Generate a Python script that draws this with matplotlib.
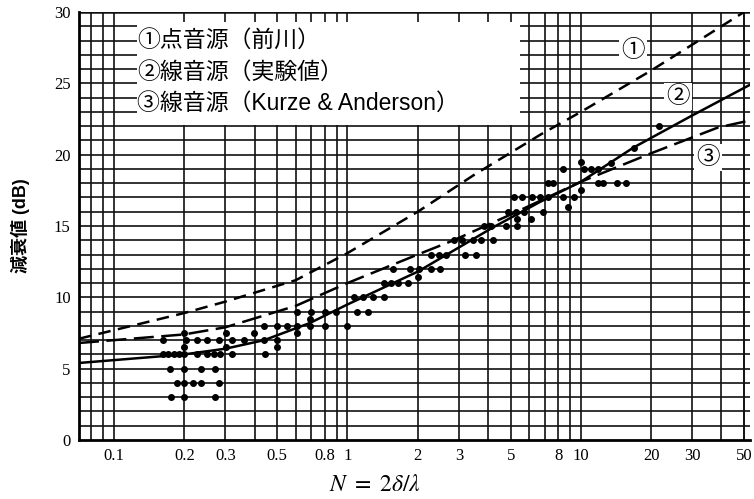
import matplotlib
matplotlib.use("Agg")
import matplotlib.pyplot as plt
from matplotlib.patches import Rectangle
import numpy as np

# ---- data ----
curve1_N = [0.0708, 0.1, 0.2, 0.3, 0.6, 1.0, 2.0, 3.5, 6.7, 10, 20, 50]
curve1_dB = [7.1, 7.7, 8.9, 9.7, 11.2, 13.1, 16.0, 18.6, 21.4, 23.0, 25.9, 30.0]

curve2_N = [0.0708, 0.1, 0.2, 0.3, 0.44, 0.69, 1.0, 2.0, 4.2, 6.7, 10, 16.8, 29.6, 53]
curve2_dB = [5.4, 5.6, 6.0, 6.4, 7.0, 8.2, 9.5, 11.8, 14.9, 16.7, 18.1, 20.5, 22.7, 24.9]

curve3_N = [0.0708, 0.1, 0.2, 0.3, 0.6, 1.0, 2.0, 2.85, 5, 10, 20, 38.6, 53]
curve3_dB = [6.8, 7.0, 7.4, 7.9, 9.4, 11.0, 13.0, 14.0, 15.8, 18.1, 20.1, 21.9, 22.4]

points_N = [0.162, 0.204, 0.227, 0.251, 0.282, 0.321, 0.362, 0.44, 0.50,
            0.2, 0.302, 0.396, 0.61,
            0.162, 0.170, 0.180, 0.189, 0.2, 0.226, 0.250, 0.267, 0.285, 0.320, 0.445,
            0.2, 0.302, 0.50,
            0.174, 0.2, 0.236, 0.271,
            0.187, 0.2, 0.219, 0.235, 0.283,
            0.176, 0.2, 0.27,
            0.44, 0.50, 0.55, 0.61, 0.69, 0.80, 1.0,
            0.61, 0.70, 0.80, 0.89, 0.69,
            1.07, 1.17, 1.29, 1.43, 1.1, 1.23,
            1.43, 1.53, 1.65, 1.81,
            1.56, 1.86, 2.02, 2.27, 2.5, 2.0,
            2.27, 2.46, 2.63, 3.2, 3.54,
            2.85, 3.1, 3.44, 3.72, 4.2,
            3.83, 4.1, 4.76, 5.35,
            4.86, 5.26, 5.7, 5.35, 6.1, 6.86,
            5.16, 5.6, 6.2, 6.7, 7.2, 8.4, 9.3, 8.8,
            7.2, 7.6, 8.4, 10, 10.3, 11.0, 11.8, 13.4,
            10, 11.8, 12.4, 14.3, 15.6, 16.8, 21.6]
points_dB = [7, 7, 7, 7, 7, 7, 7, 7, 7,
             7.5, 7.5, 7.5, 7.5,
             6, 6, 6, 6, 6, 6, 6, 6, 6, 6, 6,
             6.5, 6.5, 6.5,
             5, 5, 5, 5,
             4, 4, 4, 4, 4,
             3, 3, 3,
             8, 8, 8, 8, 8, 8, 8,
             9, 9, 9, 9, 8.5,
             10, 10, 10, 10, 9, 9,
             11, 11, 11, 11,
             12, 12, 12, 12, 12, 11.4,
             13, 13, 13, 13, 13,
             14, 14, 14, 14, 14,
             15, 15, 15, 15,
             16, 16, 16, 15.5, 15.5, 16,
             17, 17, 17, 17, 17, 17, 17, 16.3,
             18, 18, 19, 19.5, 19, 19, 19, 19.4,
             17.5, 18, 18, 18, 18, 20.5, 22]

x_ticks = [0.1, 0.2, 0.3, 0.5, 0.8, 1, 2, 3, 5, 8, 10, 20, 30, 50]
x_ticklabels = ["0.1", "0.2", "0.3", "0.5", "0.8", "1", "2", "3", "5", "8", "10", "20", "30", "50"]
y_ticks = [0, 5, 10, 15, 20, 25, 30]

legend_lines = ["①点音源（前川）", "②線音源（実験値）", "③線音源（Kurze & Anderson）"]
curve_tags = ["①", "②", "③"]
curve_tag_pos = [(16.7, 27.3), (26.1, 24.1), (35.1, 19.8)]

# ---- figure ----
plt.rcParams['mathtext.fontset'] = 'stix'
fig = plt.figure(figsize=(7.54, 4.99), dpi=100)
ax = fig.add_axes([79/754, 1-440/499, (750-79)/754, (440-12)/499])
ax.set_xscale('log')
ax.set_xlim(0.0708, 53)
ax.set_ylim(0, 30)

# grid
vgrid = [m * 10.0**e for e in (-2, -1, 0, 1) for m in range(1, 10)]
vgrid = [v for v in vgrid if 0.075 < v < 52] + [50]
for v in vgrid:
    ax.axvline(v, color='#111111', lw=1.2, zorder=1)
for h in range(1, 30):
    ax.axhline(h, color='#111111', lw=1.2, zorder=1)
ax.axhline(30, color='#111111', lw=1.8, zorder=1)

# curves
ax.plot(curve1_N, curve1_dB, color='black', lw=1.8, dashes=(5, 3), zorder=3)
ax.plot(curve2_N, curve2_dB, color='black', lw=1.8, zorder=3)
ax.plot(curve3_N, curve3_dB, color='black', lw=1.8, dashes=(8, 3), zorder=3)
ax.plot(points_N, points_dB, 'o', color='black', ms=4, zorder=4)

# legend box
ax.add_patch(Rectangle((58/671, 1-113/428), (520-137)/671, 103/428,
                       transform=ax.transAxes, facecolor='white', edgecolor='none', zorder=5))
for i, (txt, ypx) in enumerate(zip(legend_lines, [40, 72, 103])):
    ax.text((137-79)/671, (440-ypx)/428, txt, transform=ax.transAxes,
            fontsize=16.5, va='center', ha='left',
            family=['Liberation Sans', 'Noto Sans CJK JP'], zorder=6)

for tag, (xn, yd) in zip(curve_tags, curve_tag_pos):
    ax.text(xn, yd, tag, fontsize=17, ha='center', va='center',
            family=['Noto Sans CJK JP', 'DejaVu Sans'], zorder=6,
            bbox=dict(facecolor='white', edgecolor='none', pad=1.5))

# axes styling
for s in ['left', 'bottom']:
    ax.spines[s].set_linewidth(2.0)
ax.spines['top'].set_visible(False)
ax.spines['right'].set_visible(False)
ax.set_xticks(x_ticks)
ax.set_xticklabels(x_ticklabels)
ax.xaxis.set_minor_locator(matplotlib.ticker.NullLocator())
ax.set_yticks(y_ticks)
ax.tick_params(length=0, pad=6)
for lab in ax.get_xticklabels() + ax.get_yticklabels():
    lab.set_family('Liberation Serif')
    lab.set_fontsize(12)

ax.set_xlabel(r'$N\ =\ 2\delta/\lambda$', fontsize=17)
ax.xaxis.set_label_coords((375-79)/671, -0.075)
ax.set_ylabel('減衰値 (dB)', fontsize=13, family=['Liberation Sans', 'Noto Sans CJK JP'],
              fontweight='bold')
ax.yaxis.set_label_coords(-(79-30)/671, 0.5)

fig.savefig('out.png', dpi=100)
